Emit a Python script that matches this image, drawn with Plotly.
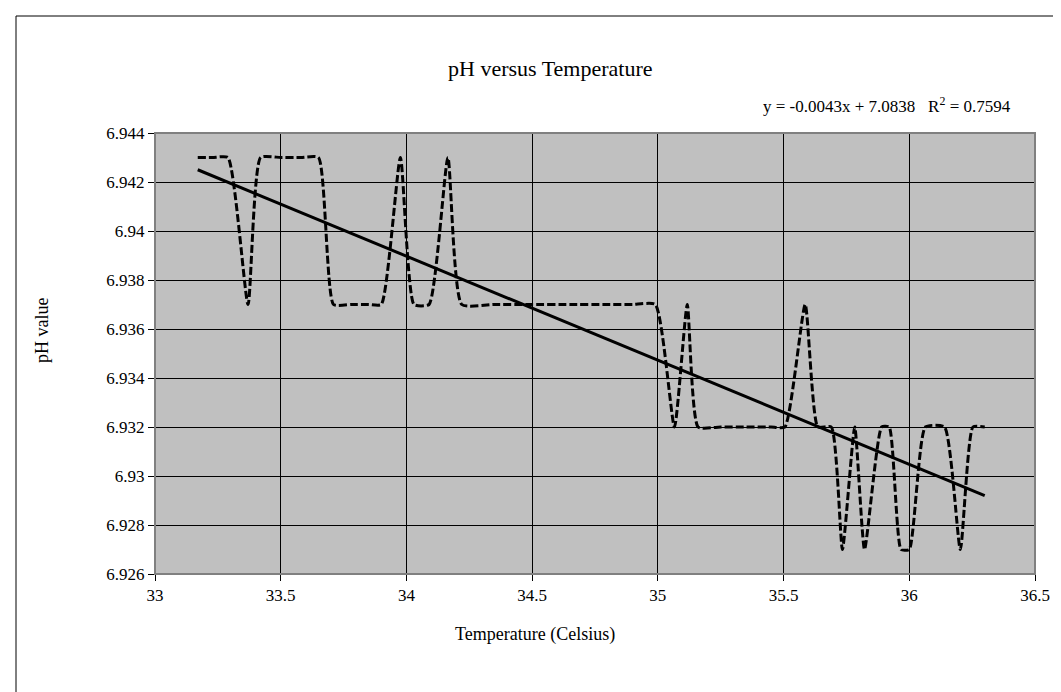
import plotly.graph_objects as go

# pH readings against temperature (smoothed line in the original)
temp_c = [33.17, 33.23, 33.29, 33.37, 33.42, 33.50, 33.58, 33.65, 33.71, 33.78,
          33.85, 33.90, 33.976, 34.03, 34.09, 34.165, 34.22, 34.35, 34.50, 34.65,
          34.80, 34.90, 34.99, 35.066, 35.117, 35.16, 35.25, 35.35, 35.45, 35.505,
          35.586, 35.636, 35.69, 35.734, 35.783, 35.822, 35.89, 35.92, 35.967, 36.0,
          36.064, 36.14, 36.203, 36.253, 36.30]
ph_value = [6.943, 6.943, 6.943, 6.937, 6.943, 6.943, 6.943, 6.943, 6.937, 6.937,
            6.937, 6.937, 6.943, 6.937, 6.937, 6.943, 6.937, 6.937, 6.937, 6.937,
            6.937, 6.937, 6.937, 6.932, 6.937, 6.932, 6.932, 6.932, 6.932, 6.932,
            6.937, 6.932, 6.932, 6.927, 6.932, 6.927, 6.932, 6.932, 6.927, 6.927,
            6.932, 6.932, 6.927, 6.932, 6.932]

# linear trendline end points as drawn
trend_x = [33.17, 36.30]
trend_y = [6.9425, 6.9292]
trend_label = "y = -0.0043x + 7.0838   R<sup>2</sup> = 0.7594"

x_ticks = [33, 33.5, 34, 34.5, 35, 35.5, 36, 36.5]
x_labels = ["33", "33.5", "34", "34.5", "35", "35.5", "36", "36.5"]
y_ticks = [6.926, 6.928, 6.93, 6.932, 6.934, 6.936, 6.938, 6.94, 6.942, 6.944]
y_labels = ["6.926", "6.928", "6.93", "6.932", "6.934", "6.936", "6.938", "6.94", "6.942", "6.944"]

W, H = 1061, 692
L, R, T, B = 147, 1027, 125, 566
FONT = "Liberation Serif, DejaVu Serif, serif"


def px(x):
    return (x - L) / (R - L)


def py(y):
    return (B - y) / (B - T)


fig = go.Figure()

fig.add_trace(
    go.Scatter(
        x=temp_c,
        y=ph_value,
        mode="lines",
        line=dict(color="black", width=3, dash="8px,3px", shape="spline", smoothing=0.5),
        showlegend=False,
    )
)

fig.add_trace(
    go.Scatter(
        x=trend_x,
        y=trend_y,
        mode="lines",
        line=dict(color="black", width=3),
        showlegend=False,
    )
)

axis_common = dict(
    showgrid=True,
    gridcolor="black",
    gridwidth=1,
    ticks="outside",
    ticklen=6,
    tickcolor="black",
    showline=True,
    linecolor="black",
    linewidth=1,
    zeroline=False,
    tickfont=dict(family=FONT, size=17, color="black"),
)

fig.update_xaxes(
    range=[33, 36.5],
    tickvals=x_ticks,
    ticktext=x_labels,
    **axis_common,
)
fig.update_yaxes(
    range=[6.926, 6.944],
    tickvals=y_ticks,
    ticktext=y_labels,
    **axis_common,
)

fig.update_layout(
    width=W,
    height=H,
    margin=dict(l=L, r=W - R, t=T, b=H - B),
    plot_bgcolor="#C0C0C0",
    paper_bgcolor="white",
    font=dict(family=FONT, color="black"),
    shapes=[
        # outer chart border (right and bottom edges fall outside the page)
        dict(type="rect", xref="paper", yref="paper",
             x0=px(8), x1=px(1100), y0=py(8), y1=py(720),
             line=dict(color="black", width=1)),
        # plot area frame
        dict(type="rect", xref="paper", yref="paper",
             x0=0, x1=1, y0=0, y1=1,
             line=dict(color="#808080", width=2)),
    ],
    annotations=[
        dict(text="pH versus Temperature", xref="paper", yref="paper",
             x=px(542), y=py(46), showarrow=False,
             font=dict(size=22, family=FONT)),
        dict(text=trend_label, xref="paper", yref="paper",
             x=px(1005), y=py(84), xanchor="right", showarrow=False,
             font=dict(size=17, family=FONT)),
        dict(text="Temperature (Celsius)", xref="paper", yref="paper",
             x=px(527), y=py(639), showarrow=False,
             font=dict(size=18, family=FONT)),
        dict(text="pH value", xref="paper", yref="paper",
             x=px(22), y=py(322), textangle=-90, showarrow=False,
             font=dict(size=18, family=FONT)),
    ],
)

fig.write_html("out.html")
